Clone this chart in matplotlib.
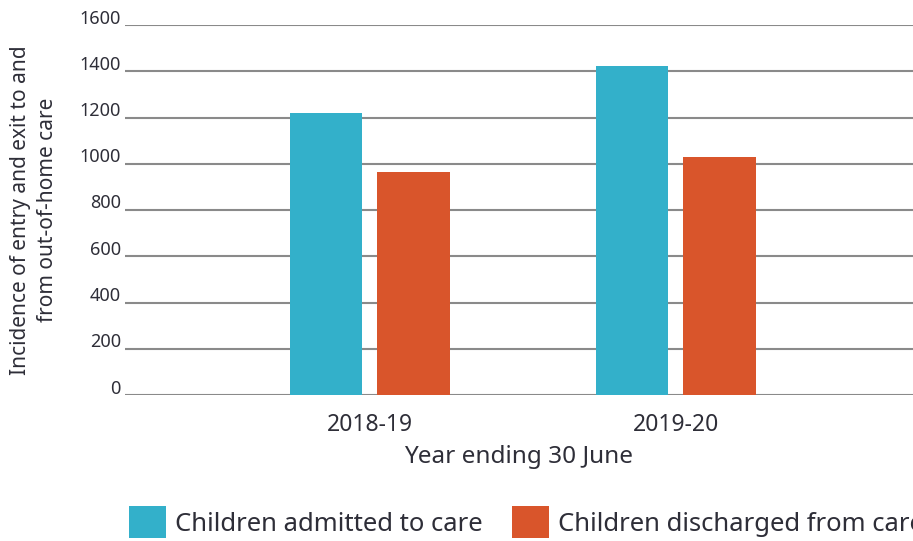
import matplotlib
matplotlib.use("Agg")
import matplotlib.pyplot as plt
from matplotlib.patches import Patch
from matplotlib.transforms import ScaledTranslation
import numpy as np

categories = ["2018-19", "2019-20"]
admitted = [1221, 1421]
discharged = [963, 1030]
series_labels = ["Children admitted to care", "Children discharged from care"]
yticks = [0, 200, 400, 600, 800, 1000, 1200, 1400, 1600]

BLUE = "#33B0CA"
ORANGE = "#D9552B"
TEXT = "#2E2E38"
GRID = "#8A8A8A"

plt.rcParams['font.family'] = ['Noto Sans', 'DejaVu Sans']

W, H = 913, 541
fig = plt.figure(figsize=(W / 100, H / 100), dpi=100)
ax = fig.add_axes([125 / W, (H - 395) / H, (913 - 125) / W, 370 / H])

x = np.arange(len(categories))
bw = 0.238
off = 0.143
ax.bar(x - off, admitted, width=bw, color=BLUE, zorder=3)
ax.bar(x + off, discharged, width=bw, color=ORANGE, zorder=3)

ax.set_xlim(-0.8, 1.775)
ax.set_ylim(0, 1600)
ax.set_yticks(yticks)
ax.set_yticklabels([str(v) for v in yticks])
ax.set_xticks(x)
ax.set_xticklabels(categories)

for s in ax.spines.values():
    s.set_visible(False)
ax.grid(axis='y', color=GRID, linewidth=1.5, zorder=0)
ax.set_axisbelow(True)
ax.tick_params(axis='both', length=0, colors=TEXT)
ax.tick_params(axis='y', labelsize=13, pad=3)
ax.tick_params(axis='x', labelsize=16.5, pad=13)

for lab in ax.get_yticklabels():
    lab.set_transform(lab.get_transform() + ScaledTranslation(0, 8.5 / 100, fig.dpi_scale_trans))

ax.set_xlabel("Year ending 30 June", fontsize=17.5, color=TEXT)
ax.xaxis.set_label_coords(0.5, -0.135)
ax.set_ylabel("Incidence of entry and exit to and\nfrom out-of-home care", fontsize=15,
              color=TEXT, linespacing=1.35)
ax.yaxis.set_label_coords(-0.085, 0.5)

handles = [Patch(facecolor=BLUE, label=series_labels[0]),
           Patch(facecolor=ORANGE, label=series_labels[1])]
fig.legend(handles=handles, loc='upper left', bbox_to_anchor=(129 / W, (H - 506) / H),
           ncol=2, frameon=False, fontsize=18.5, handlelength=1.44, handleheight=1.55,
           handletextpad=0.35, columnspacing=1.13, borderpad=0, borderaxespad=0,
           labelcolor=TEXT)

fig.savefig("out.png", dpi=100)
